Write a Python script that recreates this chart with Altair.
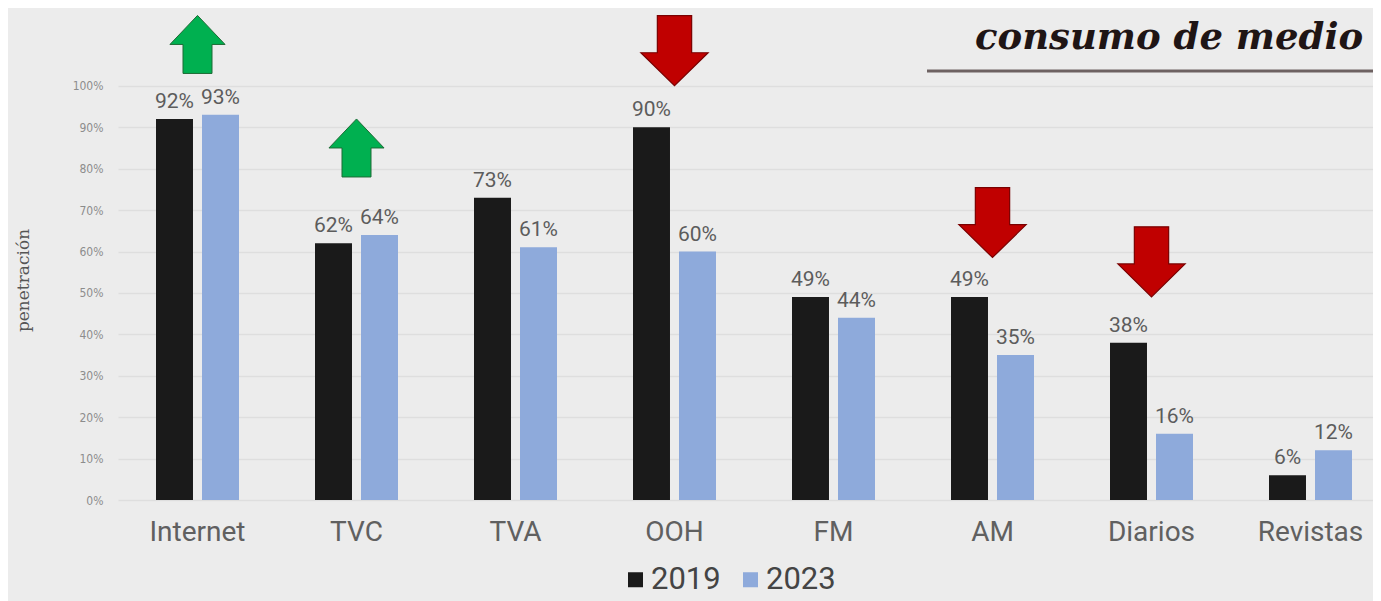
import altair as alt
import pandas as pd

medios = ["Internet", "TVC", "TVA", "OOH", "FM", "AM", "Diarios", "Revistas"]
v2019 = [92, 62, 73, 90, 49, 49, 38, 6]
v2023 = [93, 64, 61, 60, 44, 35, 16, 12]
years = ["2019", "2023"]
year_colors = ["#1a1a1a", "#8eaadb"]

up_medios = ["Internet", "TVC"]
up_level = [110, 85]
down_medios = ["OOH", "AM", "Diarios"]
down_level = [108.5, 67, 57.5]

y_ticks = [0, 10, 20, 30, 40, 50, 60, 70, 80, 90, 100]
title_text = "consumo de medio"
y_title = "penetración"

rows = []
for m, a, b in zip(medios, v2019, v2023):
    rows.append({"medio": m, "anio": years[0], "valor": a, "etiqueta": f"{a}%"})
    rows.append({"medio": m, "anio": years[1], "valor": b, "etiqueta": f"{b}%"})
df = pd.DataFrame(rows)

up_df = pd.DataFrame({"medio": up_medios, "valor": up_level})
down_df = pd.DataFrame({"medio": down_medios, "valor": down_level})

UP_PATH = "M0,-1 L0.95,0 L0.5,0 L0.5,1 L-0.5,1 L-0.5,0 L-0.95,0 Z"
DOWN_PATH = "M-0.49,-1 L0.49,-1 L0.49,0.06 L0.96,0.06 L0,1 L-0.96,0.06 L-0.49,0.06 Z"

x_enc = alt.X(
    "medio:N",
    sort=medios,
    title=None,
    scale=alt.Scale(range=[0, 1272], paddingInner=0.478, paddingOuter=0.239),
    axis=alt.Axis(
        labelAngle=0, labelFont="Roboto", labelFontSize=28, labelColor="#606060",
        labelPadding=18, domain=False, ticks=False, grid=False,
    ),
)
y_enc = alt.Y(
    "valor:Q",
    title=y_title,
    scale=alt.Scale(domain=[0, 118.8], nice=False, zero=True),
    axis=alt.Axis(
        values=y_ticks, labelExpr="datum.value + '%'", labelFont="DejaVu Sans Condensed",
        labelFontSize=12, labelColor="#8c8c8c", labelPadding=15, domain=False, ticks=False,
        gridColor="#dedede", gridWidth=1.5,
        titleFont="DejaVu Serif", titleFontSize=17, titleFontWeight="normal", titleColor="#555555",
        titleX=-95, titleY=272, titleAngle=270, titleAlign="center", titleBaseline="middle",
    ),
)

base = alt.Chart(df)

bars = base.mark_bar().encode(
    x=x_enc,
    y=y_enc,
    xOffset=alt.XOffset("anio:N", sort=years, scale=alt.Scale(paddingInner=0.196)),
    color=alt.Color(
        "anio:N",
        scale=alt.Scale(domain=years, range=year_colors),
        legend=alt.Legend(
            title=None, orient="none", legendX=502, legendY=556, direction="horizontal",
            symbolType="square", symbolSize=225, labelFontSize=31, labelFont="Roboto",
            labelColor="#444444", columnPadding=14, labelOffset=0, symbolStrokeWidth=0,
        ),
    ),
)

labels = base.mark_text(
    baseline="alphabetic", dy=-11, font="Roboto", fontSize=21, color="#5c5c5c"
).encode(
    x=alt.X("medio:N", sort=medios),
    y="valor:Q",
    xOffset=alt.XOffset("anio:N", sort=years),
    text="etiqueta:N",
)

up_arrows = alt.Chart(up_df).mark_point(
    shape=UP_PATH, size=3364, filled=True, fill="#00b050", stroke="#1d6b35",
    strokeWidth=1, opacity=1,
).encode(x=alt.X("medio:N", sort=medios), y="valor:Q")

down_arrows = alt.Chart(down_df).mark_point(
    shape=DOWN_PATH, size=4900, filled=True, fill="#c00000", stroke="#7a0000",
    strokeWidth=1.2, opacity=1,
).encode(x=alt.X("medio:N", sort=medios), y="valor:Q")

title = alt.Chart(pd.DataFrame({"t": [title_text]})).mark_text(
    align="left", baseline="alphabetic", font="DejaVu Serif", fontSize=37,
    fontStyle="italic", fontWeight="bold", color="#1f1515",
).encode(x=alt.value(857), y=alt.value(41), text="t:N")

underline = alt.Chart(pd.DataFrame({"t": [title_text]})).mark_rule(
    color="#6e6262", strokeWidth=3
).encode(x=alt.value(809), x2=alt.value(1300), y=alt.value(63))

chart = alt.layer(bars, labels, up_arrows, down_arrows, title, underline).properties(
    width=1255,
    height=492,
    autosize=alt.AutoSizeParams(type="none"),
    padding={"left": 110, "top": 0, "right": 0, "bottom": 101},
    background="#ececec",
).configure_view(stroke=None)

chart.save("out.html", embed_options={"renderer": "svg", "actions": False})
